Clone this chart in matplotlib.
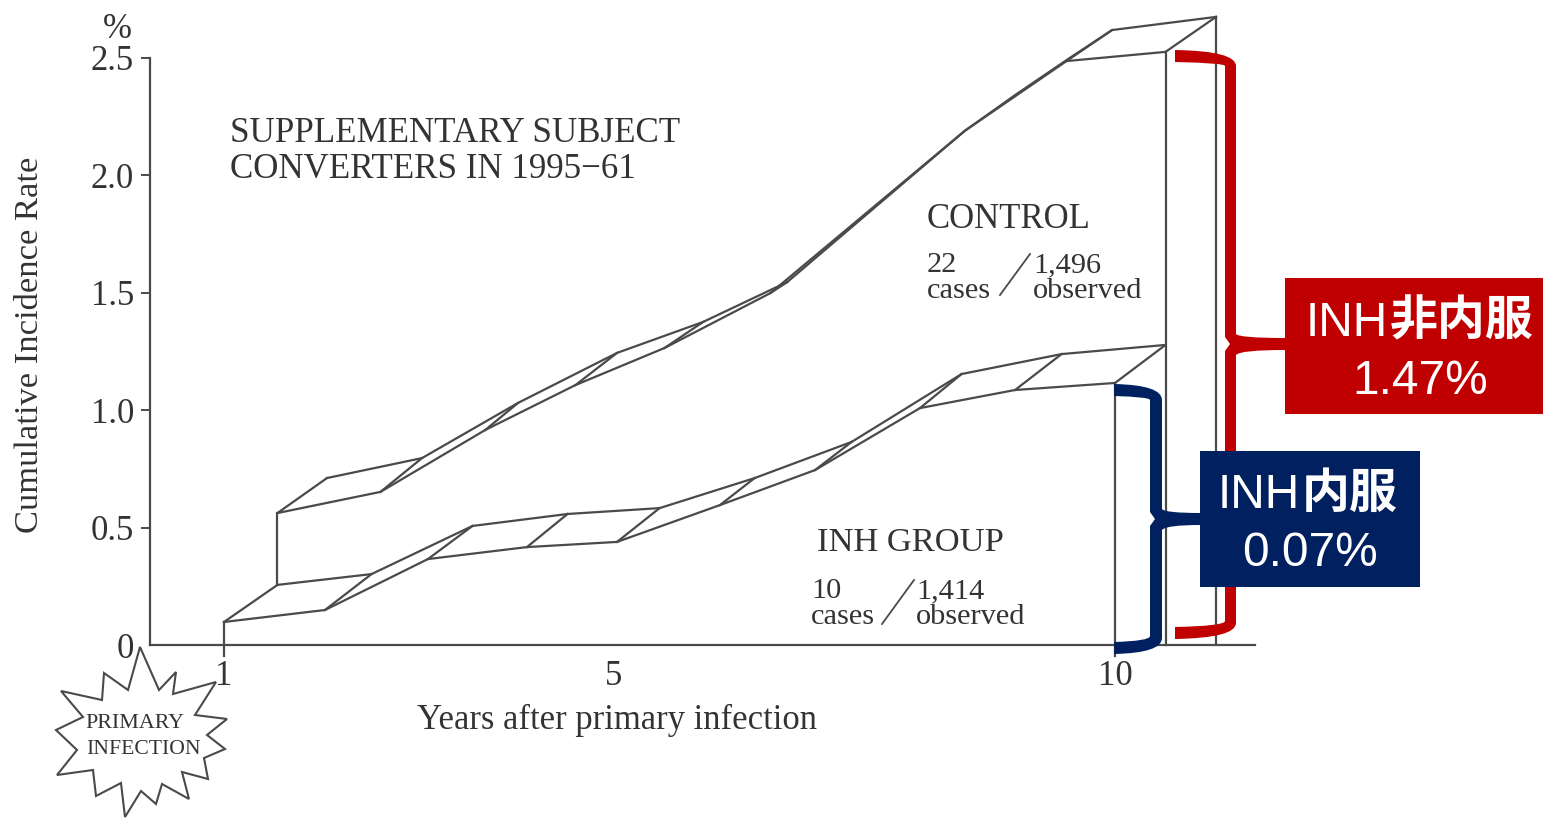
import matplotlib
matplotlib.use('Agg')
import matplotlib.pyplot as plt
from matplotlib.path import Path
from matplotlib.patches import PathPatch, Polygon, Rectangle

W, H = 1543, 818
SERIF = 'Liberation Serif'
LINE = '#4a4a4a'
TXT = '#333333'
RED = '#C00000'
NAVY = '#002060'
LAT = ['Liberation Sans', 'Noto Sans CJK JP']

# values (years, cumulative %)
control_front_x = [1.54, 2.58, 3.64, 4.55, 5.45, 6.52, 8.48, 9.51, 10.51]
control_front_y = [0.562, 0.652, 0.916, 1.107, 1.265, 1.499, 2.189, 2.487, 2.526]
control_back_x = [2.04, 3.0, 3.97, 4.97, 5.84, 6.69, 8.48, 8.99, 9.51, 9.97, 11.02]
control_back_y = [0.711, 0.796, 1.031, 1.244, 1.376, 1.546, 2.189, 2.342, 2.491, 2.619, 2.675]
inh_front_x = [1.0, 2.02, 3.06, 4.06, 4.97, 6.01, 6.97, 8.03, 8.99, 10.0]
inh_front_y = [0.098, 0.149, 0.366, 0.417, 0.439, 0.596, 0.745, 1.009, 1.086, 1.116]
inh_back_x = [1.54, 2.49, 3.51, 4.47, 5.40, 6.36, 7.34, 8.45, 9.46, 10.51]
inh_back_y = [0.256, 0.302, 0.507, 0.558, 0.583, 0.711, 0.865, 1.154, 1.239, 1.278]
# which front point joins which back point
control_links = [(0, 0), (1, 1), (2, 2), (3, 3), (4, 4), (5, 5), (7, 9), (8, 10)]

y_ticks = [0, 0.5, 1.0, 1.5, 2.0, 2.5]
y_labels = ['0', '0.5', '1.0', '1.5', '2.0', '2.5']
x_ticks = [1, 4.93, 10]
x_labels = ['1', '5', '10']

fig = plt.figure(figsize=(W / 100, H / 100), dpi=100)
ax = fig.add_axes([150 / W, (H - 645) / H, 1105 / W, 587 / H])
ax.set_xlim(0.2525, 11.414)
ax.set_ylim(0, 2.5)
ax.spines['top'].set_visible(False)
ax.spines['right'].set_visible(False)
for s in ['left', 'bottom']:
    ax.spines[s].set_color(LINE)
    ax.spines[s].set_linewidth(1.6)
ax.set_yticks(y_ticks, y_labels, family=SERIF, fontsize=25, color=TXT)
ax.set_xticks(x_ticks, x_labels, family=SERIF, fontsize=25, color=TXT)
ax.tick_params(axis='y', length=6.5, width=1.4, color=LINE, pad=5)
ax.tick_params(axis='x', length=0, pad=11)
ax.yaxis.get_major_ticks()[0].tick1line.set_visible(False)


def seg(xs, ys):
    ax.plot(xs, ys, color=LINE, lw=1.6, clip_on=False, solid_joinstyle='round')


seg(control_front_x, control_front_y)
seg(control_back_x, control_back_y)
seg(inh_front_x, inh_front_y)
seg(inh_back_x, inh_back_y)
for i, j in control_links:
    seg([control_front_x[i], control_back_x[j]], [control_front_y[i], control_back_y[j]])
for i in range(len(inh_front_x)):
    seg([inh_front_x[i], inh_back_x[i]], [inh_front_y[i], inh_back_y[i]])

# uprights
seg([inh_back_x[0], inh_back_x[0]], [inh_back_y[0], control_front_y[0]])
seg([inh_front_x[0], inh_front_x[0]], [-0.045, inh_front_y[0]])
seg([inh_front_x[-1], inh_front_x[-1]], [-0.045, inh_front_y[-1]])
seg([control_front_x[-1], control_front_x[-1]], [0, control_front_y[-1]])
seg([control_back_x[-1], control_back_x[-1]], [0, control_back_y[-1]])

# overlay in picture pixels for the notes
ov = fig.add_axes([0, 0, 1, 1])
ov.set_xlim(0, W)
ov.set_ylim(H, 0)
ov.axis('off')
ov.patch.set_alpha(0)


def note(x, y, s, size=21.9, ha='left', **kw):
    ov.text(x, y + 3, s, family=SERIF, fontsize=size, color=TXT, ha=ha, va='center', **kw)


note(117, 27, '%', 25, ha='center')
note(30, 342, 'Cumulative Incidence Rate', 24.8, ha='center', rotation=90)
note(617, 717, 'Years after primary infection', 24.9, ha='center')
note(230, 130, 'SUPPLEMENTARY SUBJECT', 25.2)
note(230, 166, 'CONVERTERS IN 1995\u221261', 25.2)
note(927, 217, 'CONTROL', 25)
note(927, 262, '22')
note(927, 288, 'cases')
note(1033, 262, '1,496')
note(1033, 288, 'observed')
note(817, 540, 'INH GROUP', 24.8)
note(811, 588, '10')
note(811, 614, 'cases')
note(916, 588, '1,414')
note(916, 614, 'observed')
ov.plot([1000, 1030], [295, 254], color=LINE, lw=1.3)
ov.plot([882, 914], [624, 580], color=LINE, lw=1.3)

star = [(140, 647), (159, 690), (176, 672), (173, 694), (216, 682), (195, 715), (227, 719),
        (207, 735), (225, 749), (204, 758), (208, 779), (182, 772), (189, 799), (162, 784),
        (156, 804), (141, 791), (125, 817), (121, 783), (96, 796), (93, 770), (57, 775),
        (77, 750), (56, 730), (83, 717), (61, 691), (102, 700), (104, 673), (128, 690)]
ov.add_patch(Polygon(star, closed=True, fc='white', ec=LINE, lw=1.5))
note(85, 720, 'PRIMARY', 15.8)
note(86, 746, 'INFECTION', 15.6)

M, L, C, Z = Path.MOVETO, Path.LINETO, Path.CURVE3, Path.CLOSEPOLY


def brace(x0, xi, xo, xb, y0, y1, ym, color):
    # x0 arm end, xi/xo inner and outer edge of the spine, xb box side, ym middle
    v = [(x0, y0), (xo, y0 + 1), (xo, y0 + 16),
         (xo, ym - 10), (xo + 3, ym - 6), (xb, ym - 6),
         (xb, ym + 6), (xo + 4, ym + 6), (xo, ym + 11),
         (xo, y1 - 16), (xo, y1 - 1), (x0, y1),
         (x0, y1 - 12), (xi, y1 - 13), (xi, y1 - 18),
         (xi, ym + 7), (xi + 5, ym), (xi, ym - 7),
         (xi, y0 + 16), (xi, y0 + 13), (x0, y0 + 12), (x0, y0)]
    c = [M, C, C, L, C, C, L, C, C, L, C, C, L, C, C, L, L, L, L, C, C, Z]
    ov.add_patch(PathPatch(Path(v, c), fc=color, ec='none', zorder=3))


brace(1175, 1225, 1236, 1285, 50, 639, 344, RED)
brace(1114, 1150, 1162, 1200, 384, 654, 519, NAVY)

ov.add_patch(Rectangle((1285, 278), 258, 136, fc=RED, ec='none', zorder=4))
ov.add_patch(Rectangle((1200, 451), 220, 136, fc=NAVY, ec='none', zorder=4))


def box_text(x, y, s, ha='center', weight='normal', size=34.5):
    ov.text(x, y, s, family=LAT, fontsize=size, color='white', ha=ha, va='center',
            fontweight=weight, zorder=5)


box_text(1388, 323, 'INH', ha='right')
box_text(1390, 323, '\u975e\u5185\u670d', ha='left', weight='bold')
box_text(1420, 381, '1.47%')
box_text(1300, 495, 'INH', ha='right')
box_text(1302, 495, '\u5185\u670d', ha='left', weight='bold')
box_text(1310, 553, '0.07%')

fig.savefig('out.png', dpi=100)
